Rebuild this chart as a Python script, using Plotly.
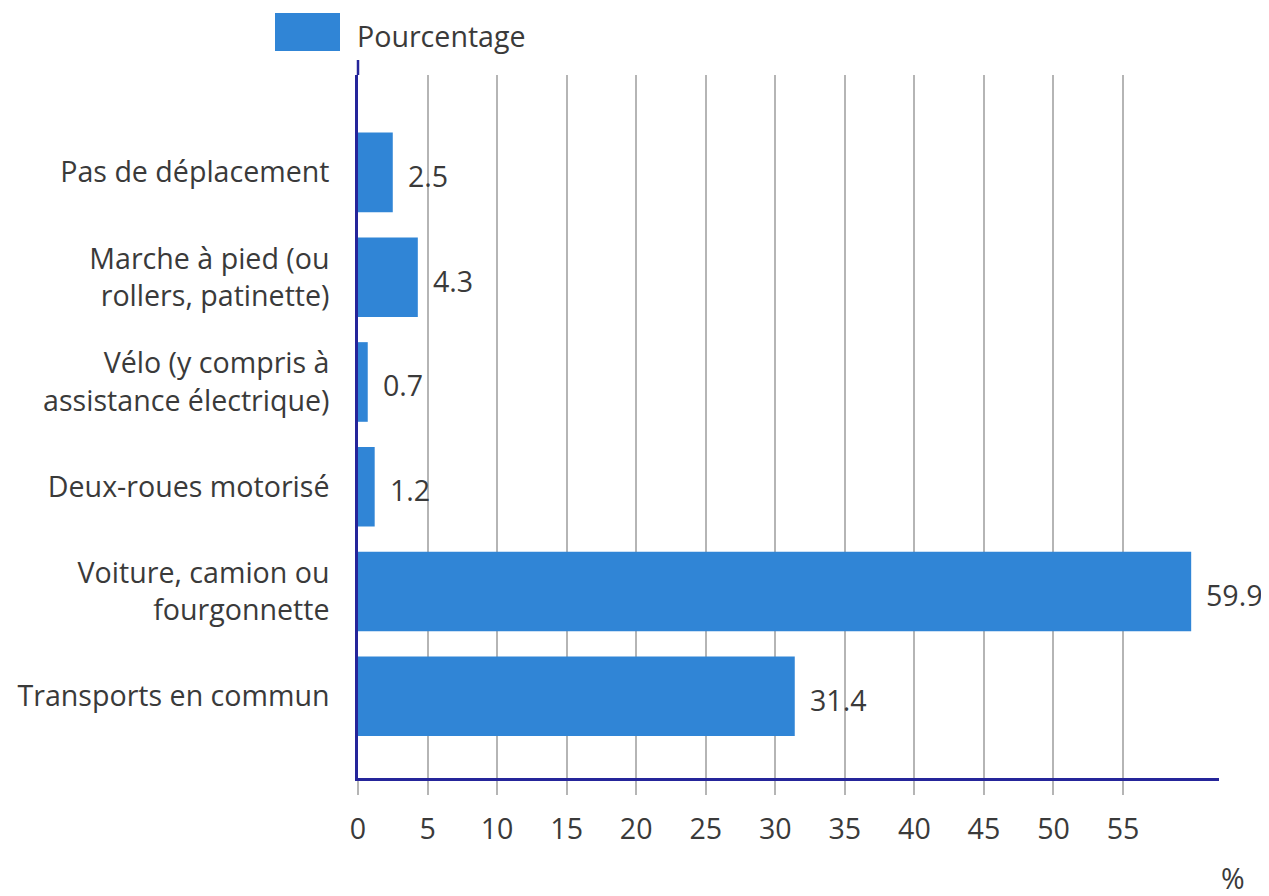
import plotly.graph_objects as go

categories = [
    "Transports en commun",
    "Voiture, camion ou<br>fourgonnette",
    "Deux-roues motorisé",
    "Vélo (y compris à<br>assistance électrique)",
    "Marche à pied (ou<br>rollers, patinette)",
    "Pas de déplacement",
]
values = [31.4, 59.9, 1.2, 0.7, 4.3, 2.5]
value_labels = ["31.4", "59.9", "1.2", "0.7", "4.3", "2.5"]
series_name = "Pourcentage"
x_ticks = [0, 5, 10, 15, 20, 25, 30, 35, 40, 45, 50, 55]

BAR = "#3085d6"
AXIS = "#25259a"
GRID = "#b5b5b5"
TEXT = "#3a3a3a"
FONT = "Open Sans"
FS = 28.6

fig = go.Figure()
fig.add_trace(go.Bar(
    x=values, y=categories, orientation="h",
    marker=dict(color=BAR, line=dict(width=0)),
    width=0.76, name=series_name, showlegend=False,
))

for v, c, t in zip(values, categories, value_labels):
    fig.add_annotation(x=v, y=c, xref="x", yref="y", text=t, showarrow=False,
                       xanchor="left", yanchor="middle", xshift=13, yshift=-3,
                       font=dict(family=FONT, size=FS, color=TEXT))

# legend
fig.add_shape(type="rect", xref="paper", yref="paper", xsizemode="pixel", ysizemode="pixel",
              xanchor=0, yanchor=1, x0=-83, x1=-18, y0=24, y1=62,
              fillcolor=BAR, line=dict(width=0))
fig.add_annotation(xref="paper", yref="paper", x=0, y=1, xanchor="left", yanchor="middle",
                   xshift=-3, yshift=40, text=series_name, showarrow=False,
                   font=dict(family=FONT, size=FS, color=TEXT))
# y axis extension above plot
fig.add_shape(type="line", xref="paper", yref="paper", xsizemode="pixel", ysizemode="pixel",
              xanchor=0, yanchor=1, x0=0, x1=0, y0=0, y1=15,
              line=dict(color=AXIS, width=2.5))
# unit
fig.add_annotation(xref="paper", yref="paper", x=1, y=0, xanchor="center", yanchor="middle",
                   xshift=14, yshift=-99, text="%", showarrow=False,
                   font=dict(family=FONT, size=FS, color=TEXT))

fig.update_layout(
    width=1261, height=888,
    margin=dict(l=350, r=50, t=67, b=118),
    paper_bgcolor="white", plot_bgcolor="white",
    font=dict(family=FONT, size=FS, color=TEXT),
)
fig.update_xaxes(
    range=[0, 61.9], tickvals=x_ticks, ticktext=[str(t) for t in x_ticks],
    showgrid=True, gridcolor=GRID, gridwidth=1.5,
    ticks="outside", ticklen=14, tickcolor=GRID, tickwidth=1.5,
    ticklabelstandoff=10,
    showline=True, linecolor=AXIS, linewidth=2.5, automargin=False,
    zeroline=False, tickfont=dict(family=FONT, size=FS, color=TEXT),
)
fig.update_yaxes(
    type="category", categoryorder="array", categoryarray=categories,
    range=[-0.78, 5.93], automargin=False,
    showgrid=False, ticks="", ticklabelstandoff=20,
    showline=True, linecolor=AXIS, linewidth=2.5,
    tickfont=dict(family=FONT, size=FS, color=TEXT),
)

fig.write_html("out.html")
